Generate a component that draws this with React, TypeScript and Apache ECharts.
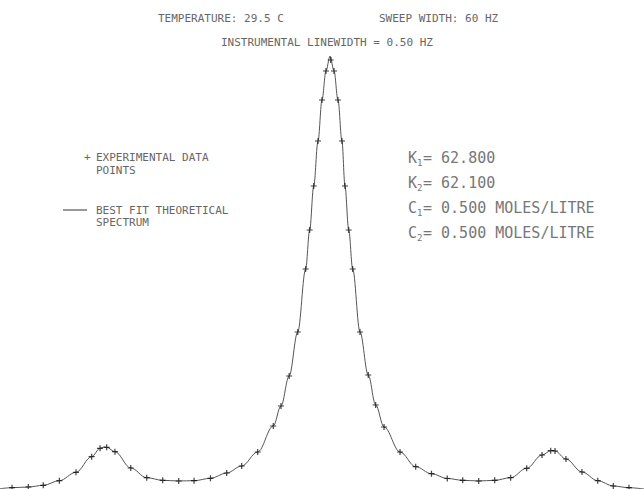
import React, { useEffect, useRef } from "react";
import * as echarts from "echarts";

// Frequency (Hz, 0–60 Hz sweep) and relative intensity (% of main peak)
const expHz = [
  1.12, 2.64, 4.03, 5.53, 7.08, 8.54, 9.32, 9.94, 10.71, 12.18, 13.67, 15.16,
  16.65, 18.08, 19.61, 21.12, 22.52, 24.01, 25.46, 26.18, 26.94, 27.74, 28.48,
  28.85, 29.23, 29.63, 30.0, 30.37, 30.81, 31.12, 31.49, 31.86, 32.14, 32.49,
  32.86, 33.54, 34.31, 35.0, 35.78, 37.27, 38.73, 40.2, 41.67, 43.11, 44.6,
  46.09, 47.58, 49.07, 50.5, 51.31, 51.71, 52.73, 54.22, 55.69, 57.14, 58.6,
];
const expIntensity = [
  0.3, 0.46, 0.85, 1.92, 3.86, 7.46, 9.4, 9.63, 8.61, 4.85, 2.61, 2.01, 1.85,
  1.92, 2.47, 3.7, 5.31, 8.55, 14.55, 19.17, 26.1, 36.26, 50.81, 59.82, 69.98,
  80.37, 89.84, 96.54, 99.08, 96.54, 89.84, 80.37, 69.98, 59.82, 50.81, 36.26,
  26.33, 19.4, 14.32, 8.55, 5.15, 3.53, 2.43, 2.01, 1.85, 2.01, 2.61, 4.78,
  7.85, 8.85, 8.78, 6.93, 3.93, 1.92, 0.69, 0.3,
];

// Theoretical curve
const fitHz = [
  0, 1.12, 2.64, 4.03, 5.53, 7.08, 8.54, 9.32, 9.69, 9.94, 10.71, 12.18, 13.67,
  15.16, 16.65, 18.08, 19.61, 21.12, 22.52, 24.01, 25.46, 26.18, 26.94, 27.74,
  28.48, 28.85, 29.23, 29.63, 30.0, 30.37, 30.75, 31.12, 31.49, 31.86, 32.14,
  32.49, 32.86, 33.54, 34.31, 35.0, 35.78, 37.27, 38.73, 40.2, 41.67, 43.11,
  44.6, 46.09, 47.58, 49.07, 50.5, 51.31, 51.52, 51.71, 52.73, 54.22, 55.69,
  57.14, 58.6, 60,
];
const fitIntensity = [
  0.07, 0.3, 0.46, 0.85, 1.92, 3.86, 7.46, 9.4, 9.7, 9.63, 8.61, 4.85, 2.61,
  2.01, 1.85, 1.92, 2.47, 3.7, 5.31, 8.55, 14.55, 19.17, 26.1, 36.26, 50.81,
  59.82, 69.98, 80.37, 89.84, 96.54, 100, 96.54, 89.84, 80.37, 69.98, 59.82,
  50.81, 36.26, 26.33, 19.4, 14.32, 8.55, 5.15, 3.53, 2.43, 2.01, 1.85, 2.01,
  2.61, 4.78, 7.85, 8.85, 8.9, 8.78, 6.93, 3.93, 1.92, 0.69, 0.3, 0,
];

const headerTexts = ["TEMPERATURE: 29.5 C", "SWEEP WIDTH: 60 HZ", "INSTRUMENTAL LINEWIDTH = 0.50 HZ"];
const legendTexts = ["EXPERIMENTAL DATA", "POINTS", "BEST FIT THEORETICAL", "SPECTRUM"];
const paramSymbols = ["K", "K", "C", "C"];
const paramSubs = ["1", "2", "1", "2"];
const paramValues = ["= 62.800", "= 62.100", "= 0.500 MOLES/LITRE", "= 0.500 MOLES/LITRE"];

const MONO = "DejaVu Sans Mono";
const TXT = "#666";

export default function App() {
  const ref = useRef<HTMLDivElement>(null);
  useEffect(() => {
    if (!ref.current) return;
    const chart = echarts.init(ref.current, undefined, { renderer: "svg" });
    const small = (text: string, x: number, y: number) => ({
      type: "text",
      x,
      y,
      style: { text, font: `11px ${MONO}`, fill: TXT, verticalAlign: "middle", align: "left" },
    });
    const paramEls: any[] = [];
    const py = [158, 183, 208, 233];
    paramSymbols.forEach((s, i) => {
      paramEls.push({
        type: "text",
        x: 408,
        y: py[i],
        style: { text: s, font: `15px ${MONO}`, fill: "#777", verticalAlign: "middle" },
      });
      paramEls.push({
        type: "text",
        x: 417,
        y: py[i] + 5,
        style: { text: paramSubs[i], font: `9px ${MONO}`, fill: "#777", verticalAlign: "middle" },
      });
      paramEls.push({
        type: "text",
        x: 423,
        y: py[i],
        style: { text: paramValues[i], font: `15px ${MONO}`, fill: "#777", verticalAlign: "middle" },
      });
    });
    chart.setOption({
      animation: false,
      backgroundColor: "#fff",
      grid: { left: 0, right: 0, top: 56, bottom: 0 },
      xAxis: { type: "value", min: 0, max: 60, show: false },
      yAxis: { type: "value", min: 0, max: 100, show: false },
      series: [
        {
          name: "Best fit theoretical spectrum",
          type: "line",
          data: fitHz.map((x, i) => [x, fitIntensity[i]]),
          showSymbol: false,
          smooth: 0.35,
          smoothMonotone: "x",
          clip: false,
          lineStyle: { color: "#555", width: 1 },
          z: 2,
        },
        {
          name: "Experimental data points",
          type: "scatter",
          data: expHz.map((x, i) => [x, expIntensity[i]]),
          symbol: "path://M2,0L3,0L3,2L5,2L5,3L3,3L3,5L2,5L2,3L0,3L0,2L2,2Z",
          symbolSize: 6,
          itemStyle: { color: "#111" },
          z: 3,
        },
      ],
      graphic: [
        small(headerTexts[0], 158, 18),
        small(headerTexts[1], 379, 18),
        small(headerTexts[2], 221, 42),
        small("+", 84, 157),
        small(legendTexts[0], 96, 157),
        small(legendTexts[1], 96, 170),
        {
          type: "line",
          shape: { x1: 63, y1: 210, x2: 87, y2: 210 },
          style: { stroke: "#333", lineWidth: 1 },
        },
        small(legendTexts[2], 96, 210),
        small(legendTexts[3], 96, 222),
        ...paramEls,
      ],
    });
    return () => chart.dispose();
  }, []);
  return (
    <div
      ref={ref}
      style={{ position: "fixed", left: 0, top: 0, width: 644, height: 489, background: "#fff" }}
    />
  );
}
